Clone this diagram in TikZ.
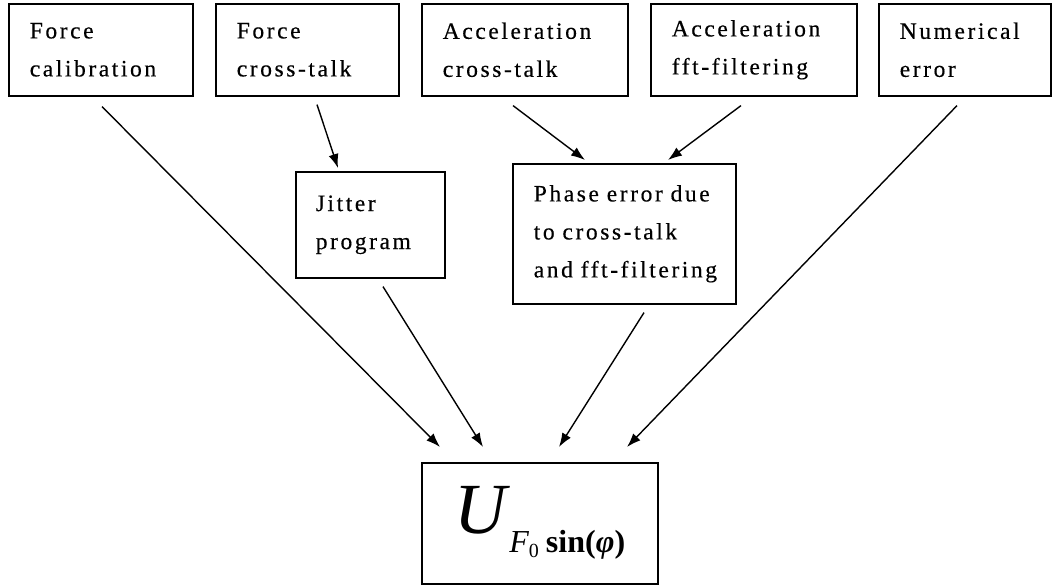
\documentclass[tikz,border=0pt]{standalone}
\usepackage{fontspec}
\setmainfont{Liberation Serif}[LetterSpace=11,FakeBold=0.4]
\newfontfamily\eqfont{Liberation Serif}
\usetikzlibrary{arrows.meta}
\begin{document}
\begin{tikzpicture}[x=1pt,y=-1pt,
  box/.style={draw, line width=1.6pt, anchor=north west, inner xsep=21pt, inner ysep=0pt,
    align=left, font=\fontsize{23.5pt}{38pt}\selectfont, minimum height=#1},
  conn/.style={line width=1.4pt, -{Latex[length=14pt,width=10pt]}}]
\fill[white] (0,0) rectangle (1053,586);
\useasboundingbox (0,0) rectangle (1053,586);
\node[box=92pt, text width=142pt] (fc) at (8,3) {Force\\calibration};
\node[box=92pt, text width=141pt] (fx) at (215,3) {Force\\cross-talk};
\node[box=92pt, text width=164pt] (ax) at (421,3) {Acceleration\\cross-talk};
\node[box=92pt, text width=164pt] (af) at (650,3) {Acceleration\\fft-filtering};
\node[box=92pt, text width=130pt] (ne) at (878,3) {Numerical\\error};
\node[box=106pt, text width=109pt, inner xsep=20pt] (jp) at (295,171) {Jitter\\program};
\node[box=140pt, text width=181pt] (pe) at (512,163) {Phase error due\\to cross-talk\\and fft-filtering};
\node[draw, line width=1.6pt, anchor=north west, minimum width=236pt, minimum height=121pt, inner sep=0pt] (u) at (421,462)
  {{\eqfont\fontsize{72pt}{72pt}\selectfont\itshape U}\kern3pt\raisebox{-19pt}{\eqfont\fontsize{32pt}{32pt}\selectfont\itshape F\raisebox{-5pt}{\fontsize{20pt}{20pt}\selectfont\upshape 0}\hspace{7pt}\bfseries\upshape sin(\itshape φ\upshape)}};
\draw[conn] ([xshift=94pt,yshift=-10pt]fc.south west) -- ([xshift=19pt,yshift=15pt]u.north west);
\draw[conn] ([xshift=102pt,yshift=-8pt]fx.south west) -- ([xshift=43pt,yshift=3pt]jp.north west);
\draw[conn] ([xshift=92pt,yshift=-9pt]ax.south west) -- ([xshift=73pt,yshift=3pt]pe.north west);
\draw[conn] ([xshift=91pt,yshift=-9pt]af.south west) -- ([xshift=156pt,yshift=3pt]pe.north west);
\draw[conn] ([xshift=79pt,yshift=-9pt]ne.south west) -- ([xshift=206pt,yshift=15pt]u.north west);
\draw[conn] ([xshift=88pt,yshift=-8pt]jp.south west) -- ([xshift=62pt,yshift=15pt]u.north west);
\draw[conn] ([xshift=132pt,yshift=-8pt]pe.south west) -- ([xshift=138pt,yshift=15pt]u.north west);
\end{tikzpicture}
\end{document}
